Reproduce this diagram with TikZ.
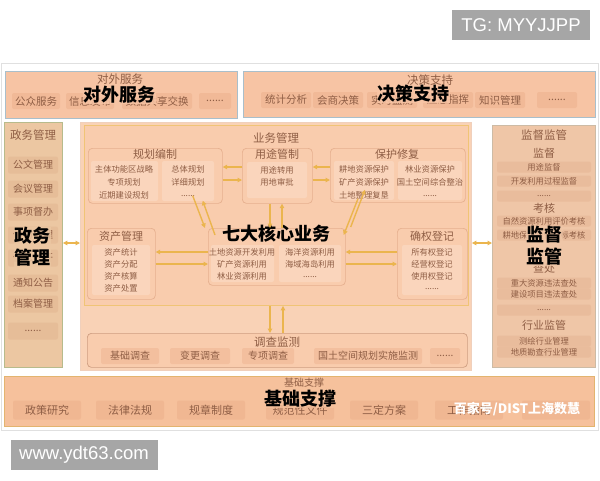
\documentclass[tikz,border=0pt]{standalone}
\usepackage{fontspec}
\setmainfont{Noto Sans CJK SC}
\newfontfamily\latf{Liberation Sans}
\usetikzlibrary{arrows.meta,calc}
\newcommand\sixdots{......}
\definecolor{topfill}{HTML}{F7C4A4}
\definecolor{topbd}{HTML}{A9BFCB}
\definecolor{topcell}{HTML}{F1B997}
\definecolor{txt}{HTML}{8F5E45}
\definecolor{leftfill}{HTML}{ECC7A2}
\definecolor{leftbd}{HTML}{B7BB8C}
\definecolor{leftcell}{HTML}{E6BD98}
\definecolor{midfill}{HTML}{F9D2B6}
\definecolor{bizfill}{HTML}{F9CCAD}
\definecolor{bizbd}{HTML}{F0C476}
\definecolor{subbd}{HTML}{E6B08F}
\definecolor{subcell}{HTML}{FAD5BC}
\definecolor{arr}{HTML}{EBB54E}
\definecolor{rightfill}{HTML}{EFC6A7}
\definecolor{rightbd}{HTML}{CDBBA5}
\definecolor{rightcell}{HTML}{E9BC9C}
\definecolor{botfill}{HTML}{F6C19C}
\definecolor{botbd}{HTML}{E3B46F}
\definecolor{botcell}{HTML}{F0B792}
\definecolor{wmgray}{HTML}{A6A6A6}
\begin{document}
\begin{tikzpicture}[x=1pt,y=-1pt,
  panel/.style={anchor=north west, inner sep=0pt, line width=0.9pt},
  subbox/.style={anchor=north west, inner sep=0pt, draw=subbd, fill=bizfill, rounded corners=4pt, line width=0.7pt},
  topitem/.style={font=\fontsize{10.5}{11}\selectfont, text=txt, inner sep=0pt},
  item/.style={font=\fontsize{10}{11}\selectfont, text=txt, inner sep=0pt},
  sitem/.style={font=\fontsize{8.3}{9}\selectfont, text=txt, inner sep=0pt},
  ttl/.style={font=\fontsize{11.5}{12}\selectfont, text=txt, inner sep=0pt},
  sttl/.style={font=\fontsize{11}{12}\selectfont, text=txt, inner sep=0pt},
  big/.style={font=\fontsize{18}{22}\selectfont\bfseries, text=black, inner sep=0.5pt, align=center},
  cellbox/.style={rounded corners=2pt, inner sep=0pt},
  link/.style={draw=arr, line width=1.4pt, -{Triangle[length=4.5pt,width=4.5pt]}},
  dlink/.style={draw=arr, line width=1.4pt, {Triangle[length=4.5pt,width=4.5pt]}-{Triangle[length=4.5pt,width=4.5pt]}},
]
\useasboundingbox (0,0) rectangle (600,480);
\fill[white] (0,0) rectangle (600,480);
\draw[draw=black!12, line width=0.8pt] (1,63) rectangle (598,430);

% ---------- top row ----------
\node[panel, draw=topbd, fill=topfill, minimum width=232pt, minimum height=47pt] (fw) at (5,71) {};
\foreach \x/\w/\t in {36/48/公众服务, 90/48/信息发布, 157/70/数据共享交换, 215/32/\sixdots}
  \node[cellbox, fill=topcell, minimum width=\w pt, minimum height=16pt, topitem] at (\x,101) {\t};
\node[ttl] (fwt) at (120,79) {对外服务};
\node[big, fill=topfill, fill opacity=0.85, text opacity=1] (fwb) at (119,95) {对外服务};

\node[panel, draw=topbd, fill=topfill, minimum width=352pt, minimum height=46pt] (jc) at (243,71) {};
\foreach \x/\w/\t in {286/50/统计分析, 338/50/会商决策, 392/50/实时监测, 448/50/应急指挥, 500/50/知识管理, 557/40/\sixdots}
  \node[cellbox, fill=topcell, minimum width=\w pt, minimum height=16pt, topitem] at (\x,100) {\t};
\node[ttl] (jct) at (430,80) {决策支持};
\node[big, fill=topfill, fill opacity=0.85, text opacity=1] (jcb) at (413,94) {决策支持};

% ---------- left column ----------
\node[panel, draw=leftbd, fill=leftfill, minimum width=58pt, minimum height=245pt] (zw) at (4,122) {};
\node[ttl] at (33,135) {政务管理};
\foreach \y/\t in {165/公文管理, 189/会议管理, 212/事项督办, 235/信访管理, 258/信息公开, 283/通知公告, 304/档案管理, 331/\sixdots}
  \node[cellbox, fill=leftcell, minimum width=50pt, minimum height=17pt, item] at (33,\y) {\t};
\node[big, fill=leftfill, fill opacity=0.8, text opacity=1] (zwb) at (32,247) {政务\\管理};

% ---------- center ----------
\node[panel, draw=subbd!60, fill=midfill, minimum width=391pt, minimum height=248pt] (mid) at (80,122) {};
\node[panel, draw=bizbd, fill=bizfill, minimum width=384pt, minimum height=180pt] (biz) at (84,125) {};
\node[ttl] at (276,138) {业务管理};

% 规划编制
\node[subbox, minimum width=134pt, minimum height=55pt] (gh) at (88,148) {};
\node[sttl] at (155,154) {规划编制};
\fill[subcell, rounded corners=2pt] (91,161) rectangle (158,201);
\fill[subcell, rounded corners=2pt] (162,161) rectangle (214,201);
\node[sitem] at (124,169) {主体功能区战略};
\node[sitem] at (124,182) {专项规划};
\node[sitem] at (124,195) {近期建设规划};
\node[sitem] at (188,169) {总体规划};
\node[sitem] at (188,182) {详细规划};
\node[sitem] at (188,196) {\sixdots};

% 用途管制
\node[subbox, minimum width=70pt, minimum height=55pt] (yt) at (242,148) {};
\node[sttl] at (277,154) {用途管制};
\fill[subcell, rounded corners=2pt] (247,162) rectangle (307,198);
\node[sitem] at (277,170) {用途转用};
\node[sitem] at (277,182) {用地审批};

% 保护修复
\node[subbox, minimum width=135pt, minimum height=54pt] (bh) at (330,148) {};
\node[sttl] at (397,154) {保护修复};
\fill[subcell, rounded corners=2pt] (334,161) rectangle (394,200);
\fill[subcell, rounded corners=2pt] (398,161) rectangle (462,200);
\node[sitem] at (364,169) {耕地资源保护};
\node[sitem] at (364,182) {矿产资源保护};
\node[sitem] at (364,195) {土地整理复垦};
\node[sitem] at (430,169) {林业资源保护};
\node[sitem] at (430,182) {国土空间综合整治};
\node[sitem] at (430,196) {\sixdots};

% 资产管理
\node[subbox, minimum width=68pt, minimum height=71pt] (zc) at (87,228) {};
\node[sttl] at (121,236) {资产管理};
\fill[subcell, rounded corners=2pt] (92,245) rectangle (150,295);
\node[sitem] at (121,252) {资产统计};
\node[sitem] at (121,264) {资产分配};
\node[sitem] at (121,276) {资产核算};
\node[sitem] at (121,288) {资产处置};

% 七大核心业务
\node[subbox, minimum width=137pt, minimum height=57pt] (core) at (208,228) {};
\fill[subcell, rounded corners=2pt] (211,245) rectangle (274,282);
\fill[subcell, rounded corners=2pt] (279,245) rectangle (341,282);
\node[sitem] at (242,252) {土地资源开发利用};
\node[sitem] at (242,264) {矿产资源利用};
\node[sitem] at (242,276) {林业资源利用};
\node[sitem] at (310,252) {海洋资源利用};
\node[sitem] at (310,264) {海域海岛利用};
\node[sitem] at (310,277) {\sixdots};
\node[big] (coreb) at (276,234) {七大核心业务};

% 确权登记
\node[subbox, minimum width=70pt, minimum height=71pt] (qq) at (397,228) {};
\node[sttl] at (432,236) {确权登记};
\fill[subcell, rounded corners=2pt] (402,245) rectangle (462,295);
\node[sitem] at (432,252) {所有权登记};
\node[sitem] at (432,264) {经营权登记};
\node[sitem] at (432,276) {使用权登记};
\node[sitem] at (432,289) {\sixdots};

% 调查监测
\node[subbox, minimum width=380pt, minimum height=34pt, draw=subbd!90!black] (dc) at (87,333) {};
\node[ttl] at (277,342) {调查监测};
\foreach \x/\w/\t in {130/58/基础调查, 200/60/变更调查, 268/52/专项调查, 368/108/国土空间规划实施监测, 445/30/\sixdots}
  \node[cellbox, fill=topcell!70!bizfill, minimum width=\w pt, minimum height=16pt, item] at (\x,356) {\t};

% ---------- right column ----------
\node[panel, draw=rightbd, fill=rightfill, minimum width=103pt, minimum height=242pt] (jd) at (492,125) {};
\node[ttl] at (544,135) {监督监管};
\foreach \y/\t in {167/用途监督, 181/开发利用过程监督, 196/\sixdots, 221/自然资源利用评价考核, 235/耕地保护责任目标考核, 283/重大资源违法查处, 294/建设项目违法查处, 310/\sixdots, 341/测绘行业管理, 352/地质勘查行业管理}
  \node[cellbox, fill=rightcell, minimum width=94pt, minimum height=11pt, sitem] at (544,\y) {\t};
\node[sttl] at (544,153) {监督};
\node[sttl] at (544,208) {考核};
\node[sttl] at (544,268) {查处};
\node[sttl] at (544,325) {行业监管};
\node[big, fill=rightfill, fill opacity=0.8, text opacity=1] (jdb) at (544,246) {监督\\监管};

% ---------- arrows ----------
\draw[link] (yt.west |- 0,167) -- (gh.east |- 0,167);
\draw[link] (gh.east |- 0,180) -- (yt.west |- 0,180);
\draw[link] (bh.west |- 0,167) -- (yt.east |- 0,167);
\draw[link] (yt.east |- 0,180) -- (bh.west |- 0,180);
\draw[link] (yt.south -| 270,0) -- (core.north -| 270,0);
\draw[link] (core.north -| 282,0) -- (yt.south -| 282,0);
\draw[link] ($(core.north west)+(7,7)$) -- ($(gh.south east)+(-20,-3)$);
\draw[link] ($(gh.south east)+(-30,-8)$) -- ($(core.north west)+(-3,0)$);
\draw[link] ($(bh.south west)+(28,-4)$) -- ($(core.north east)+(-2,7)$);
\draw[link] ($(core.north east)+(5,-1)$) -- ($(bh.south west)+(35,-13)$);
\draw[link] (core.west |- 0,252) -- (zc.east |- 0,252);
\draw[link] (zc.east |- 0,264) -- (core.west |- 0,264);
\draw[link] (qq.west |- 0,252) -- (core.east |- 0,252);
\draw[link] (core.east |- 0,264) -- (qq.west |- 0,264);
\draw[link] (biz.south -| 270,0) -- (dc.north -| 270,0);
\draw[link] (dc.north -| 283,0) -- (biz.south -| 283,0);
\draw[dlink] (zw.east |- 0,243) -- (mid.west |- 0,243);
\draw[dlink] (mid.east |- 0,243) -- (jd.west |- 0,243);

% ---------- bottom row ----------
\node[panel, draw=botbd, fill=botfill, minimum width=590pt, minimum height=50pt] (jczc) at (4,376) {};
\node[font=\fontsize{10}{11}\selectfont, text=txt, inner sep=0pt] at (304,383) {基础支撑};
\foreach \x/\t in {47/政策研究, 130/法律法规, 211/规章制度, 300/规范性文件, 384/三定方案, 469/工作指南, 556/\sixdots}
  \node[cellbox, fill=botcell, minimum width=68pt, minimum height=19pt, font=\fontsize{11}{12}\selectfont, text=txt, inner sep=0pt] at (\x,410) {\t};
\node[big, fill=botfill, fill opacity=0.8, text opacity=1] (jczcb) at (300,399) {基础支撑};
\node[font=\fontsize{13}{14}\selectfont\bfseries, text=white, inner sep=0pt] (wm3) at (517,409) {百家号/DIST上海数慧};

% ---------- watermark boxes ----------
\node[fill=wmgray, minimum width=138pt, minimum height=30pt, inner sep=0pt, text=white, font=\latf\fontsize{18.5}{20}\selectfont] (tg) at (521,25) {TG: MYYJJPP};
\node[fill=wmgray, minimum width=147pt, minimum height=30pt, inner sep=0pt, text=white, font=\latf\fontsize{18.5}{20}\selectfont] (www) at (84,455) {www.ydt63.com};
\end{tikzpicture}
\end{document}
